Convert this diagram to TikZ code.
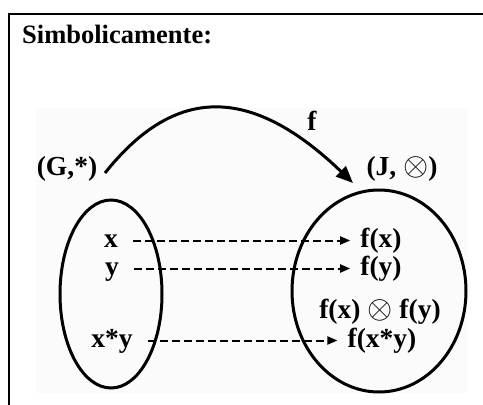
\documentclass[tikz,border=0pt]{standalone}
\usepackage{fontspec}
\setmainfont{Liberation Serif}
\usetikzlibrary{arrows.meta,shapes.geometric}
\newcommand{\myotimes}{\raisebox{-0.5pt}{\scalebox{1.3}{$\otimes$}}}
\begin{document}
\begin{tikzpicture}[x=1pt,y=-1pt,
  lbl/.style={font=\fontsize{27.5}{30}\selectfont\bfseries, text height=18pt, text depth=5pt, inner sep=2pt},
  title/.style={font=\fontsize{26.5}{30}\selectfont\bfseries, inner sep=0pt, anchor=base west},
  setshape/.style={draw, ellipse, line width=3pt, inner sep=0pt},
  maparrow/.style={line width=2pt, dash pattern=on 8pt off 4pt, -{Triangle[length=10pt,width=8pt]}, shorten <=13pt, shorten >=8pt},
  funarrow/.style={line width=3pt, -{Triangle[length=17pt,width=14pt]}},
  frameline/.style={line width=2.8pt}
]
\useasboundingbox (0,0) rectangle (483,405);
\fill[white] (0,0) rectangle (483,405);
\fill[black!1.5] (36,108) rectangle (467,393);
% frame
\draw[frameline] (483,14) -- (9,14) -- (9,405);
\node[title] (tt) at (22,43) {Simbolicamente:};
% sets
\node[setshape, minimum width=102pt, minimum height=188pt] (G) at (111,294) {};
\node[setshape, minimum width=174pt, minimum height=202pt] (J) at (379,291) {};
% set names
\node[lbl] (Gl) at (67,168.5) {(G,*)};
\node[lbl] (Jl) at (402,168.5) {(J, \myotimes)};
% function arrow
\coordinate (fs) at (105,173);
\coordinate (fe) at (353,183);
\draw[funarrow] (fs) .. controls (175,85) and (251,85) .. (fe);
\node[lbl] (fl) at (312,123.5) {f};
% elements
\node[lbl] (ex) at (111,240.5) {x};
\node[lbl] (ey) at (112,268.5) {y};
\node[lbl] (exy) at (112,340.5) {x*y};
\node[lbl] (fx) at (381,240.5) {f(x)};
\node[lbl] (fy) at (381,268.5) {f(y)};
\node[lbl] (fxfy) at (380,311.5) {f(x) \myotimes\ f(y)};
\node[lbl] (fxy) at (382,340.5) {f(x*y)};
% mappings
\draw[maparrow] (ex) -- (fx);
\draw[maparrow] (ey) -- (fy);
\draw[maparrow] (exy) -- (fxy);
\end{tikzpicture}
\end{document}
